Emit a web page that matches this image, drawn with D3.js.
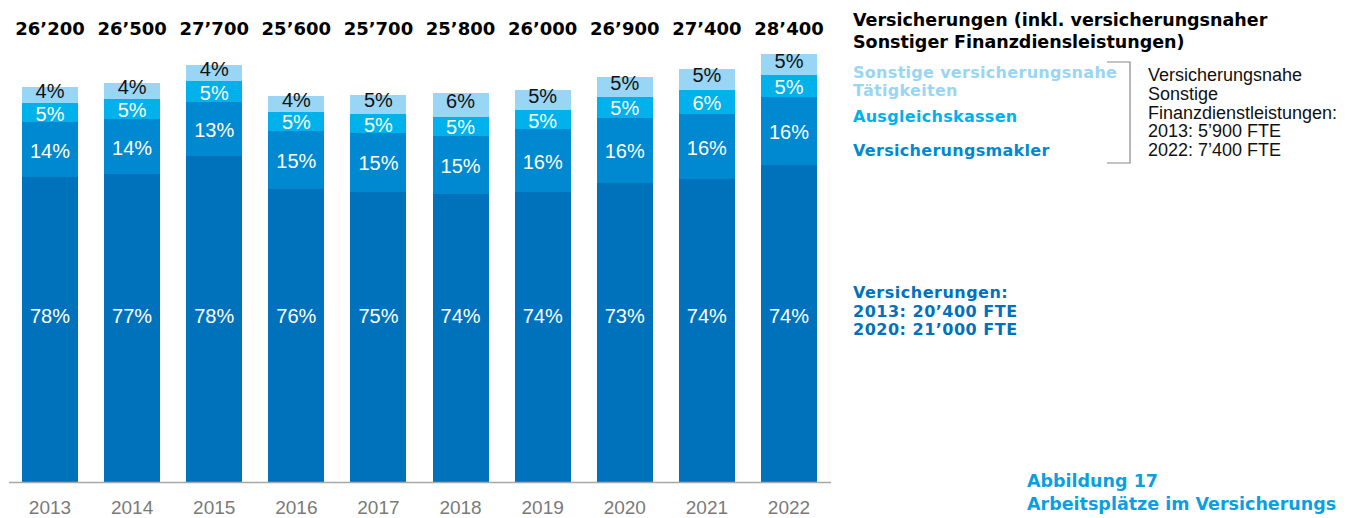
<!DOCTYPE html>
<html>
<head>
<meta charset="utf-8">
<script src="https://cdn.jsdelivr.net/npm/d3@7"></script>
<style>
  body { margin: 0; background: #fff; overflow: hidden; }
  svg { display: block; }
</style>
</head>
<body>
<div id="chart"></div>
<script>
const width = 1359;
const height = 518;

// data
const years = ["2013", "2014", "2015", "2016", "2017", "2018", "2019", "2020", "2021", "2022"];
const totals = [26200, 26500, 27700, 25600, 25700, 25800, 26000, 26900, 27400, 28400];
const totalLabels = ["26’200", "26’500", "27’700", "25’600", "25’700", "25’800", "26’000", "26’900", "27’400", "28’400"];
const versicherungen = [78, 77, 78, 76, 75, 74, 74, 73, 74, 74];
const makler = [14, 14, 13, 15, 15, 15, 16, 16, 16, 16];
const ausgleich = [5, 5, 5, 5, 5, 5, 5, 5, 6, 5];
const sonstige = [4, 4, 4, 4, 5, 6, 5, 5, 5, 5];

const seriesKeys = ["versicherungen", "makler", "ausgleich", "sonstige"];
const colors = {
    versicherungen: "#0072bc",
    makler: "#0089d0",
    ausgleich: "#00b1eb",
    sonstige: "#99d5f5"
};

const rows = years.map((yr, i) => {
    const sum = versicherungen[i] + makler[i] + ausgleich[i] + sonstige[i];
    const t = totals[i];
    return {
        year: yr,
        total: t,
        label: totalLabels[i],
        pct: { versicherungen: versicherungen[i], makler: makler[i], ausgleich: ausgleich[i], sonstige: sonstige[i] },
        versicherungen: t * versicherungen[i] / sum,
        makler: t * makler[i] / sum,
        ausgleich: t * ausgleich[i] / sum,
        sonstige: t * sonstige[i] / sum
    };
});

const svg = d3.select("div#chart").append("svg")
    .attr("width", width)
    .attr("height", height);

const x = d3.scaleBand()
    .domain(years)
    .range([22, 817])
    .paddingInner(0.318)
    .paddingOuter(0);

const y = d3.scaleLinear()
    .domain([0, 28400])
    .range([482, 54]);

const stacked = d3.stack().keys(seriesKeys)(rows);

// bars
const layers = svg.append("g").selectAll("g")
    .data(stacked)
    .join("g")
    .attr("fill", d => colors[d.key]);

layers.selectAll("rect")
    .data(d => d)
    .join("rect")
    .attr("shape-rendering", "crispEdges")
    .attr("x", d => x(d.data.year))
    .attr("width", x.bandwidth())
    .attr("y", d => y(d[1]))
    .attr("height", d => y(d[0]) - y(d[1]));

// percentage labels
const labelFont = "'Liberation Sans', Arial, Helvetica, sans-serif";
stacked.forEach(layer => {
    svg.append("g").selectAll("text")
        .data(layer)
        .join("text")
        .attr("x", d => x(d.data.year) + x.bandwidth() / 2)
        .attr("y", d => {
            if (layer.key === "versicherungen") return y(11000);
            const mid = (y(d[0]) + y(d[1])) / 2;
            return layer.key === "sonstige" ? mid - 4 : mid + 1;
        })
        .attr("text-anchor", "middle")
        .attr("dominant-baseline", "central")
        .attr("font-family", labelFont)
        .attr("font-size", 20)
        .attr("fill", layer.key === "sonstige" ? "#111" : "#fff")
        .text(d => d.data.pct[layer.key] + "%");
});

// totals on top
svg.append("g").selectAll("text")
    .data(rows)
    .join("text")
    .attr("x", d => x(d.year) + x.bandwidth() / 2)
    .attr("y", 28)
    .attr("text-anchor", "middle")
    .attr("dominant-baseline", "central")
    .attr("font-family", "'DejaVu Sans', sans-serif")
    .attr("font-weight", "bold")
    .attr("font-size", 18)
    .attr("fill", "#000")
    .text(d => d.label);

// x axis
const xAxis = svg.append("g")
    .attr("transform", `translate(0,${y(0)})`)
    .call(d3.axisBottom(x).tickSize(0).tickPadding(19));
xAxis.select(".domain").remove();
xAxis.selectAll("text")
    .attr("font-family", labelFont)
    .attr("font-size", 19)
    .attr("fill", "#7a7a7a");

svg.append("line")
    .attr("x1", x.range()[0] - 13)
    .attr("x2", x.range()[1] + 14)
    .attr("y1", y(0) + 0.5)
    .attr("y2", y(0) + 0.5)
    .attr("stroke", "#a8a8a8")
    .attr("stroke-width", 1.5);

// right side texts
const boldFont = "'DejaVu Sans', sans-serif";
const right = svg.append("g");

const title = right.append("text")
    .attr("font-family", boldFont)
    .attr("font-weight", "bold")
    .attr("font-size", 17.5)
    .attr("fill", "#000");
title.append("tspan").attr("x", 853).attr("y", 26).text("Versicherungen (inkl. versicherungsnaher");
title.append("tspan").attr("x", 853).attr("y", 48).text("Sonstiger Finanzdiensleistungen)");

const legendItems = [
    { lines: ["Sonstige versicherungsnahe", "Tätigkeiten"], y: 78, color: colors.sonstige },
    { lines: ["Ausgleichskassen"], y: 122, color: colors.ausgleich },
    { lines: ["Versicherungsmakler"], y: 156, color: colors.makler }
];
legendItems.forEach(item => {
    const t = right.append("text")
        .attr("font-family", boldFont)
        .attr("font-weight", "bold")
        .attr("font-size", 16)
        .attr("letter-spacing", 0.3)
        .attr("fill", item.color);
    item.lines.forEach((l, i) => {
        t.append("tspan").attr("x", 853).attr("y", item.y + i * 18).text(l);
    });
});

// bracket
right.append("path")
    .attr("d", "M1107,62H1130V163H1107")
    .attr("fill", "none")
    .attr("stroke", "#888")
    .attr("stroke-width", 1.2);

const noteLines = ["Versicherungsnahe", "Sonstige", "Finanzdienstleistungen:", "2013: 5’900 FTE", "2022: 7’400 FTE"];
const note = right.append("text")
    .attr("font-family", labelFont)
    .attr("font-size", 18)
    .attr("fill", "#111");
noteLines.forEach((l, i) => {
    note.append("tspan").attr("x", 1148).attr("y", 81 + i * 18.8).text(l);
});

const versLines = ["Versicherungen:", "2013: 20’400 FTE", "2020: 21’000 FTE"];
const vers = right.append("text")
    .attr("font-family", boldFont)
    .attr("font-weight", "bold")
    .attr("font-size", 16)
    .attr("letter-spacing", 0.5)
    .attr("fill", colors.versicherungen);
versLines.forEach((l, i) => {
    vers.append("tspan").attr("x", 853).attr("y", 298 + i * 18.5).text(l);
});

const fig = right.append("text")
    .attr("font-family", boldFont)
    .attr("font-weight", "bold")
    .attr("font-size", 17.5)
    .attr("fill", "#0a9fe2");
fig.append("tspan").attr("x", 1027).attr("y", 487).text("Abbildung 17");
fig.append("tspan").attr("x", 1027).attr("y", 510).text("Arbeitsplätze im Versicherungs");
</script>
</body>
</html>
